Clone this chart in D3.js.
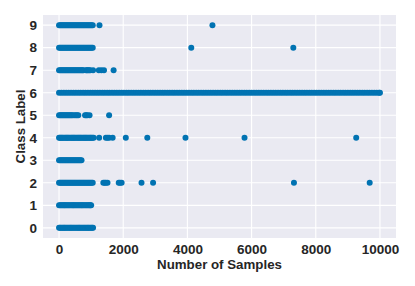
<!DOCTYPE html>
<html>
<head>
<meta charset="utf-8">
<script src="https://cdn.jsdelivr.net/npm/d3@7"></script>
<style>
  body { margin: 0; background: #fff; }
  .tick text { font-family: "Liberation Sans", Arial, sans-serif; font-weight: bold; font-size: 13.5px; fill: #262626; }
  .title { font-family: "Liberation Sans", Arial, sans-serif; font-weight: bold; font-size: 13.3px; fill: #262626; }
</style>
</head>
<body>
<div id="chart"></div>
<script>
// sample counts observed for each class label
const class0 = [0, 30, 60, 95, 130, 160, 190, 225, 260, 295, 330, 360, 390, 425, 460, 495, 530, 565,
  600, 630, 660, 695, 730, 765, 800, 835, 870, 900, 930, 965, 1000, 1030, 1060];
const class1 = [0, 35, 70, 105, 140, 170, 200, 235, 270, 305, 340, 375, 410, 440, 470, 505, 540, 575,
  610, 645, 680, 710, 740, 775, 810, 845, 880, 915, 950, 975, 1000];
const class2 = [0, 35, 70, 105, 140, 175, 210, 245, 280, 315, 350, 385, 420, 455, 490, 525, 560, 595,
  630, 665, 700, 735, 770, 805, 840, 875, 910, 945, 980, 1015, 1050,
  1380, 1420, 1460, 1510, 1860, 1900, 1950, 2570, 2930, 7320, 9680];
const class3 = [0, 35, 70, 105, 140, 175, 210, 245, 280, 315, 350, 385, 420, 455, 490, 525, 560, 595,
  630, 665, 700];
const class4 = [0, 30, 60, 90, 120, 155, 190, 220, 250, 280, 310, 345, 380, 410, 440, 470, 500, 535,
  570, 600, 630, 660, 690, 725, 760, 790, 820, 850, 880, 915, 950, 980, 1010, 1045, 1080,
  1250, 1460, 1510, 1560, 1670, 2080, 2750, 3940, 5780, 9260];
const class5 = [0, 35, 70, 105, 140, 175, 210, 245, 280, 315, 350, 385, 420, 470, 520, 560, 600,
  810, 845, 880, 950, 1560];
const class6 = [0, 75, 150, 225, 300, 375, 450, 525, 600, 675, 750, 825, 900, 975, 1050, 1125,
  1200, 1275, 1350, 1425, 1500, 1575, 1650, 1725, 1800, 1875, 1950, 2025, 2100, 2175, 2250, 2325,
  2400, 2475, 2550, 2625, 2700, 2775, 2850, 2925, 3000, 3075, 3150, 3225, 3300, 3375, 3450, 3525,
  3600, 3675, 3750, 3825, 3900, 3975, 4050, 4125, 4200, 4275, 4350, 4425, 4500, 4575, 4650, 4725,
  4800, 4875, 4950, 5025, 5100, 5175, 5250, 5325, 5400, 5475, 5550, 5625, 5700, 5775, 5850, 5925,
  6000, 6075, 6150, 6225, 6300, 6375, 6450, 6525, 6600, 6675, 6750, 6825, 6900, 6975, 7050, 7125,
  7200, 7275, 7350, 7425, 7500, 7575, 7650, 7725, 7800, 7875, 7950, 8025, 8100, 8175, 8250, 8325,
  8400, 8475, 8550, 8625, 8700, 8775, 8850, 8925, 9000, 9075, 9150, 9225, 9300, 9375, 9450, 9525,
  9600, 9675, 9750, 9825, 9900, 9975, 10000];
const class7 = [0, 35, 70, 105, 140, 175, 210, 245, 280, 315, 350, 385, 420, 455, 490, 525, 560, 595,
  630, 665, 700, 730, 760, 840, 870, 900, 935, 970, 1060, 1240, 1320, 1400, 1700];
const class8 = [0, 35, 70, 105, 140, 175, 210, 245, 280, 315, 350, 385, 420, 455, 490, 525, 560, 595,
  630, 665, 700, 735, 770, 805, 840, 875, 910, 945, 980, 1015, 1050, 4120, 7300];
const class9 = [0, 35, 70, 105, 140, 175, 210, 245, 280, 315, 350, 385, 420, 455, 490, 525, 560, 595,
  630, 665, 700, 735, 770, 805, 840, 875, 910, 945, 980, 1015, 1050, 1260, 4780];

const classSamples = [class0, class1, class2, class3, class4, class5, class6, class7, class8, class9];
const xTicks = [0, 2000, 4000, 6000, 8000, 10000];
const yTicks = [0, 1, 2, 3, 4, 5, 6, 7, 8, 9];

const W = 415, H = 286;
const margin = {top: 15, right: 19, bottom: 48, left: 43};
const width = W - margin.left - margin.right;
const height = H - margin.top - margin.bottom;

const points = [];
classSamples.forEach((arr, label) => arr.forEach(n => points.push({n: n, label: label})));

const x = d3.scaleLinear().domain([-500, 10500]).range([0, width]);
const y = d3.scaleLinear().domain([-0.45, 9.45]).range([height, 0]);

const svg = d3.select('#chart').append('svg')
  .attr('width', W)
  .attr('height', H)
  .append('g')
  .attr('transform', 'translate(' + margin.left + ',' + margin.top + ')');

svg.append('rect')
  .attr('width', width)
  .attr('height', height)
  .attr('fill', '#eaeaf2');

// ... grid lines
svg.append('g').selectAll('line').data(xTicks).join('line')
  .attr('x1', d => x(d)).attr('x2', d => x(d))
  .attr('y1', 0).attr('y2', height)
  .attr('stroke', '#fff').attr('stroke-width', 1.1);

svg.append('g').selectAll('line').data(yTicks).join('line')
  .attr('x1', 0).attr('x2', width)
  .attr('y1', d => y(d)).attr('y2', d => y(d))
  .attr('stroke', '#fff').attr('stroke-width', 1.1);

// ... axes (no tick marks, no domain)
const xAxis = svg.append('g')
  .attr('transform', 'translate(0,' + height + ')')
  .call(d3.axisBottom(x).tickValues(xTicks).tickSize(0).tickPadding(6.5).tickFormat(d3.format('d')));
xAxis.select('.domain').remove();

const yAxis = svg.append('g')
  .call(d3.axisLeft(y).tickValues(yTicks).tickSize(0).tickPadding(6).tickFormat(d3.format('d')));
yAxis.select('.domain').remove();

// ... points
svg.append('g').selectAll('circle').data(points).join('circle')
  .attr('cx', d => x(d.n))
  .attr('cy', d => y(d.label))
  .attr('r', 3)
  .attr('fill', '#0173b2');

// ... axis titles
svg.append('text')
  .attr('class', 'title')
  .attr('x', width / 2)
  .attr('y', height + 30.5)
  .style('text-anchor', 'middle')
  .text('Number of Samples');

svg.append('text')
  .attr('class', 'title')
  .attr('transform', 'translate(' + (25 - margin.left) + ',' + (height / 2) + ') rotate(-90)')
  .style('text-anchor', 'middle')
  .text('Class Label');
</script>
</body>
</html>
